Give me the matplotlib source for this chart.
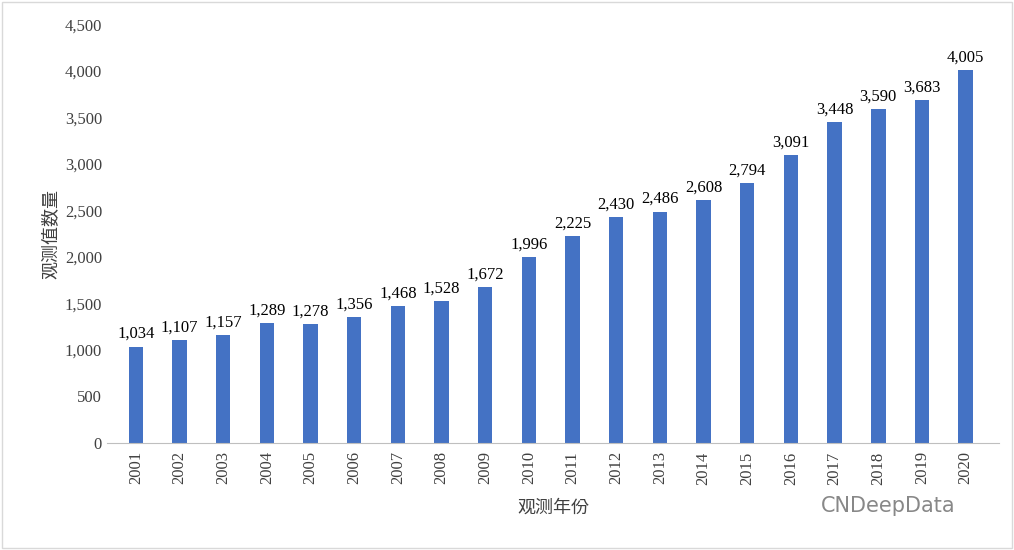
import matplotlib.pyplot as plt
from matplotlib import font_manager

years = [str(y) for y in range(2001, 2021)]
counts = [1034, 1107, 1157, 1289, 1278, 1356, 1468, 1528, 1672, 1996,
          2225, 2430, 2486, 2608, 2794, 3091, 3448, 3590, 3683, 4005]
yticks = list(range(0, 4501, 500))

serif = "Liberation Serif"
names = {f.name for f in font_manager.fontManager.ttflist}
cjk = [n for n in names if "CJK" in n]
cjk = sorted(cjk)[0] if cjk else "DejaVu Sans"
print(cjk)

fig = plt.figure(figsize=(10.14, 5.5), dpi=100)
ax = fig.add_axes([0.1055, 0.1945, 0.88, 0.7615])

x = list(range(len(years)))
ax.bar(x, counts, width=0.33, color="#4472C4")
for i, v in zip(x, counts):
    ax.text(i, v + 50, f"{v:,}", ha="center", va="bottom", fontsize=12, family=serif)

ax.set_xlim(-0.66, 19.77)
ax.set_ylim(0, 4500)
ax.set_yticks(yticks)
ax.set_yticklabels([f"{t:,}" for t in yticks], family=serif, fontsize=12, color="#404040")
ax.set_xticks(x)
ax.set_xticklabels(years, rotation=90, family=serif, fontsize=12, color="#404040")
ax.tick_params(axis="y", length=0)
ax.tick_params(axis="x", length=0, pad=6)
for s in ["top", "right", "left"]:
    ax.spines[s].set_visible(False)
ax.spines["bottom"].set_color("#bfbfbf")

ax.set_ylabel("观测值数量", family=cjk, fontsize=13, color="#404040")
ax.set_xlabel("观测年份", family=cjk, fontsize=13, color="#404040", labelpad=10)

fig.text(0.81, 0.07, "CNDeepData", fontsize=15, color="#888888", family="DejaVu Sans")
fig.patches.append(plt.Rectangle((0.002, 0.003), 0.996, 0.994, transform=fig.transFigure,
                                 fill=False, edgecolor="#d9d9d9", lw=1))

fig.savefig("out.png", dpi=100)
